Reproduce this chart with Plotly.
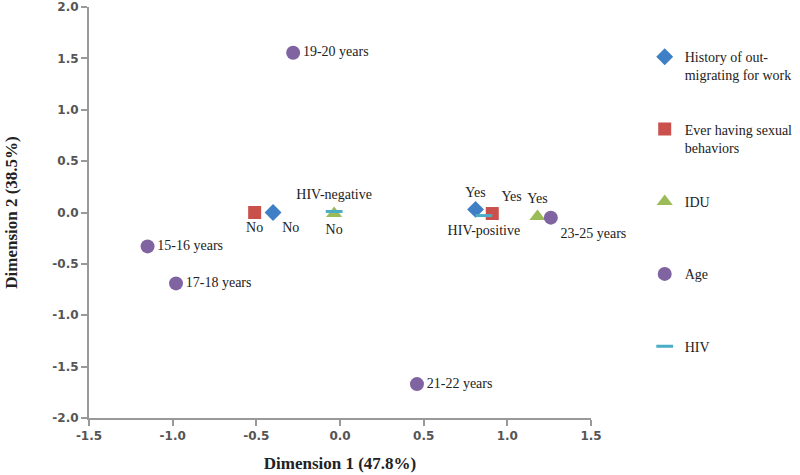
import plotly.graph_objects as go

# Data
hist_x = [-0.40, 0.81]
hist_y = [0.00, 0.03]
hist_lbl = ["No", "Yes"]

sex_x = [-0.51, 0.91]
sex_y = [0.00, -0.01]
sex_lbl = ["No", "Yes"]

idu_x = [-0.035, 1.18]
idu_y = [-0.01, -0.04]
idu_lbl = ["No", "Yes"]

age_x = [-1.15, -0.98, -0.28, 0.46, 1.26]
age_y = [-0.33, -0.69, 1.555, -1.67, -0.05]
age_lbl = ["15-16 years", "17-18 years", "19-20 years", "21-22 years", "23-25 years"]

hiv_x = [-0.035, 0.86]
hiv_y = [0.01, -0.03]
hiv_lbl = ["HIV-negative", "HIV-positive"]

x_ticks = [-1.5, -1.0, -0.5, 0.0, 0.5, 1.0, 1.5]
x_ticktext = ["-1.5", "-1.0", "-0.5", "0.0", "0.5", "1.0", "1.5"]
y_ticks = [-2.0, -1.5, -1.0, -0.5, 0.0, 0.5, 1.0, 1.5, 2.0]
y_ticktext = ["-2.0", "-1.5", "-1.0", "-0.5", "0.0", "0.5", "1.0", "1.5", "2.0"]

lblfont = dict(family="Liberation Serif", size=14, color="#222")

fig = go.Figure()
fig.add_trace(go.Scatter(
    x=hist_x, y=hist_y, mode="markers+text", text=hist_lbl,
    textposition=["bottom right", "top center"], textfont=lblfont,
    marker=dict(symbol="diamond", size=13, color="#3f7fc6"),
    name="History of out-<br>migrating for work", legendgroup="a"))
fig.add_trace(go.Scatter(
    x=sex_x, y=sex_y, mode="markers+text", text=sex_lbl,
    textposition=["bottom center", "top right"], textfont=lblfont,
    marker=dict(symbol="square", size=13, color="#c9504b"),
    name="Ever having sexual<br>behaviors", legendgroup="b"))
fig.add_trace(go.Scatter(
    x=idu_x, y=idu_y, mode="markers+text", text=idu_lbl,
    textposition=["bottom center", "top center"], textfont=lblfont,
    marker=dict(symbol="triangle-up", size=14, color="#9bbb59"),
    name="IDU<br> ", legendgroup="c"))
fig.add_trace(go.Scatter(
    x=age_x, y=age_y, mode="markers+text", text=age_lbl,
    textposition=["middle right", "middle right", "middle right", "middle right", "bottom right"],
    textfont=lblfont,
    marker=dict(symbol="circle", size=14, color="#8064a2"),
    name="Age<br> ", legendgroup="d"))
fig.add_trace(go.Scatter(
    x=hiv_x, y=hiv_y, mode="markers+text", text=hiv_lbl,
    textposition=["top center", "bottom center"], textfont=lblfont,
    marker=dict(symbol="line-ew", size=12, color="#4bacc6",
                line=dict(color="#4bacc6", width=3)),
    name="HIV<br> ", legendgroup="e"))

fig.update_traces(cliponaxis=False)

axfont = dict(family="DejaVu Sans", size=12, color="#555", weight="bold")
fig.update_layout(
    width=800, height=475,
    margin=dict(l=89, r=209, t=7, b=57, autoexpand=False),
    plot_bgcolor="white", paper_bgcolor="white",
    legend=dict(x=1.107, y=0.917, xanchor="left", yanchor="top", valign="top",
                font=dict(family="Liberation Serif", size=14, color="#222"),
                tracegroupgap=33, itemwidth=30),
    xaxis=dict(range=[-1.5, 1.5], tickvals=x_ticks, ticktext=x_ticktext,
               showgrid=False, zeroline=False, showline=True, automargin=False,
               linecolor="#999", linewidth=2, ticks="outside", tickcolor="#999",
               ticklen=6, tickwidth=2, tickfont=axfont, ticklabeloverflow="allow",
               title=dict(text="<b>Dimension 1 (47.8%)</b>", standoff=15,
                          font=dict(family="Liberation Serif", size=17, color="#222"))),
    yaxis=dict(range=[-2, 2], tickvals=y_ticks, ticktext=y_ticktext,
               showgrid=False, zeroline=False, showline=True, automargin=False,
               linecolor="#999", linewidth=2, ticks="outside", tickcolor="#999",
               ticklen=6, tickwidth=2, tickfont=axfont, ticklabeloverflow="allow",
               title=dict(text="<b>Dimension 2 (38.5%)</b>", standoff=30,
                          font=dict(family="Liberation Serif", size=17, color="#222"))),
)
fig.write_html("out.html", config={"displayModeBar": False},
               post_script="document.body.style.margin='0';")
